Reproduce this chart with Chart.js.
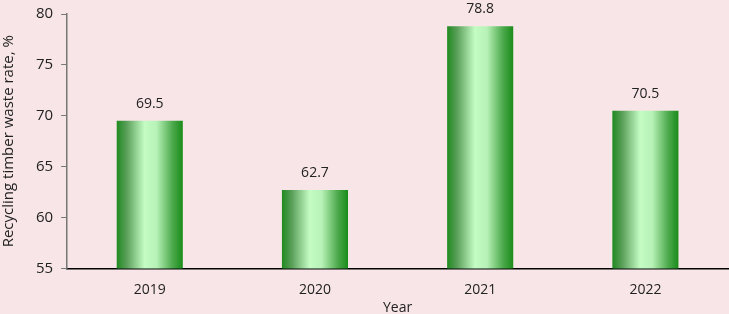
<!DOCTYPE html>
<html lang="en">
<head>
    <meta charset="UTF-8">
    <title>Recycling timber waste rate</title>
    <script src="https://cdn.jsdelivr.net/npm/chart.js"></script>
    <style>
        html, body { margin: 0; padding: 0; background: #f7e5e7; }
        #wrap { width: 729px; height: 314px; position: relative; }
    </style>
</head>
<body>
    <div id="wrap"><canvas id="rateChart"></canvas></div>

    <script>
        const years = ['2019', '2020', '2021', '2022'];
        const rates = [69.5, 62.7, 78.8, 70.5];
        const yTicks = [55, 60, 65, 70, 75, 80];

        const barFraction = 0.4;

        // horizontal shading: dark edges, pale centre
        function barFill(ctx) {
            const chart = ctx.chart;
            const xs = chart.scales.x;
            if (!xs || !chart.chartArea) return '#2a9a2a';
            const cx = xs.getPixelForValue(ctx.dataIndex);
            const half = (xs.width / years.length) * barFraction / 2;
            const g = chart.ctx.createLinearGradient(cx - half, 0, cx + half, 0);
            g.addColorStop(0, '#1f8a1f');
            g.addColorStop(0.15, '#5a9f5a');
            g.addColorStop(0.42, '#c4fcc4');
            g.addColorStop(0.6, '#b8f2b8');
            g.addColorStop(0.85, '#4aa84a');
            g.addColorStop(1, '#1a8c1a');
            return g;
        }

        const valueLabels = {
            id: 'valueLabels',
            afterDatasetsDraw(chart) {
                const c = chart.ctx;
                const meta = chart.getDatasetMeta(0);
                c.save();
                c.font = '14px "Open Sans", sans-serif';
                c.fillStyle = '#222';
                c.textAlign = 'center';
                c.textBaseline = 'bottom';
                meta.data.forEach((bar, i) => {
                    c.fillText(rates[i].toFixed(1), bar.x, bar.y - 10);
                });
                c.restore();
            }
        };

        new Chart(document.getElementById('rateChart'), {
            type: 'bar',
            data: {
                labels: years,
                datasets: [{
                    data: rates,
                    backgroundColor: barFill,
                    borderWidth: 0,
                    barPercentage: 1,
                    categoryPercentage: barFraction
                }]
            },
            options: {
                responsive: true,
                maintainAspectRatio: false,
                animation: false,
                layout: { padding: { top: 0, right: 1, left: 0, bottom: -2 } },
                plugins: {
                    legend: { display: false },
                    tooltip: { enabled: false }
                },
                scales: {
                    x: {
                        grid: { display: false, drawTicks: false },
                        border: { color: '#000', width: 1.5 },
                        ticks: {
                            color: '#222',
                            padding: 13,
                            font: { family: '"Open Sans", sans-serif', size: 14 }
                        },
                        title: {
                            display: true,
                            text: 'Year',
                            color: '#222',
                            padding: { top: -12, bottom: 0 },
                            font: { family: '"Open Sans", sans-serif', size: 14 }
                        }
                    },
                    y: {
                        min: 55,
                        max: 80,
                        afterBuildTicks(axis) {
                            axis.ticks = yTicks.map(v => ({ value: v }));
                        },
                        grid: {
                            drawOnChartArea: false,
                            tickLength: 6,
                            color: '#777'
                        },
                        border: { color: '#777', width: 1.5 },
                        ticks: {
                            color: '#222',
                            padding: 8,
                            font: { family: '"Open Sans", sans-serif', size: 15, lineHeight: 0.8 }
                        },
                        title: {
                            display: true,
                            text: 'Recycling timber waste rate, %',
                            color: '#222',
                            padding: { top: 0, bottom: 10 },
                            font: { family: '"Open Sans", sans-serif', size: 15 }
                        }
                    }
                }
            },
            plugins: [valueLabels]
        });
    </script>
</body>
</html>
